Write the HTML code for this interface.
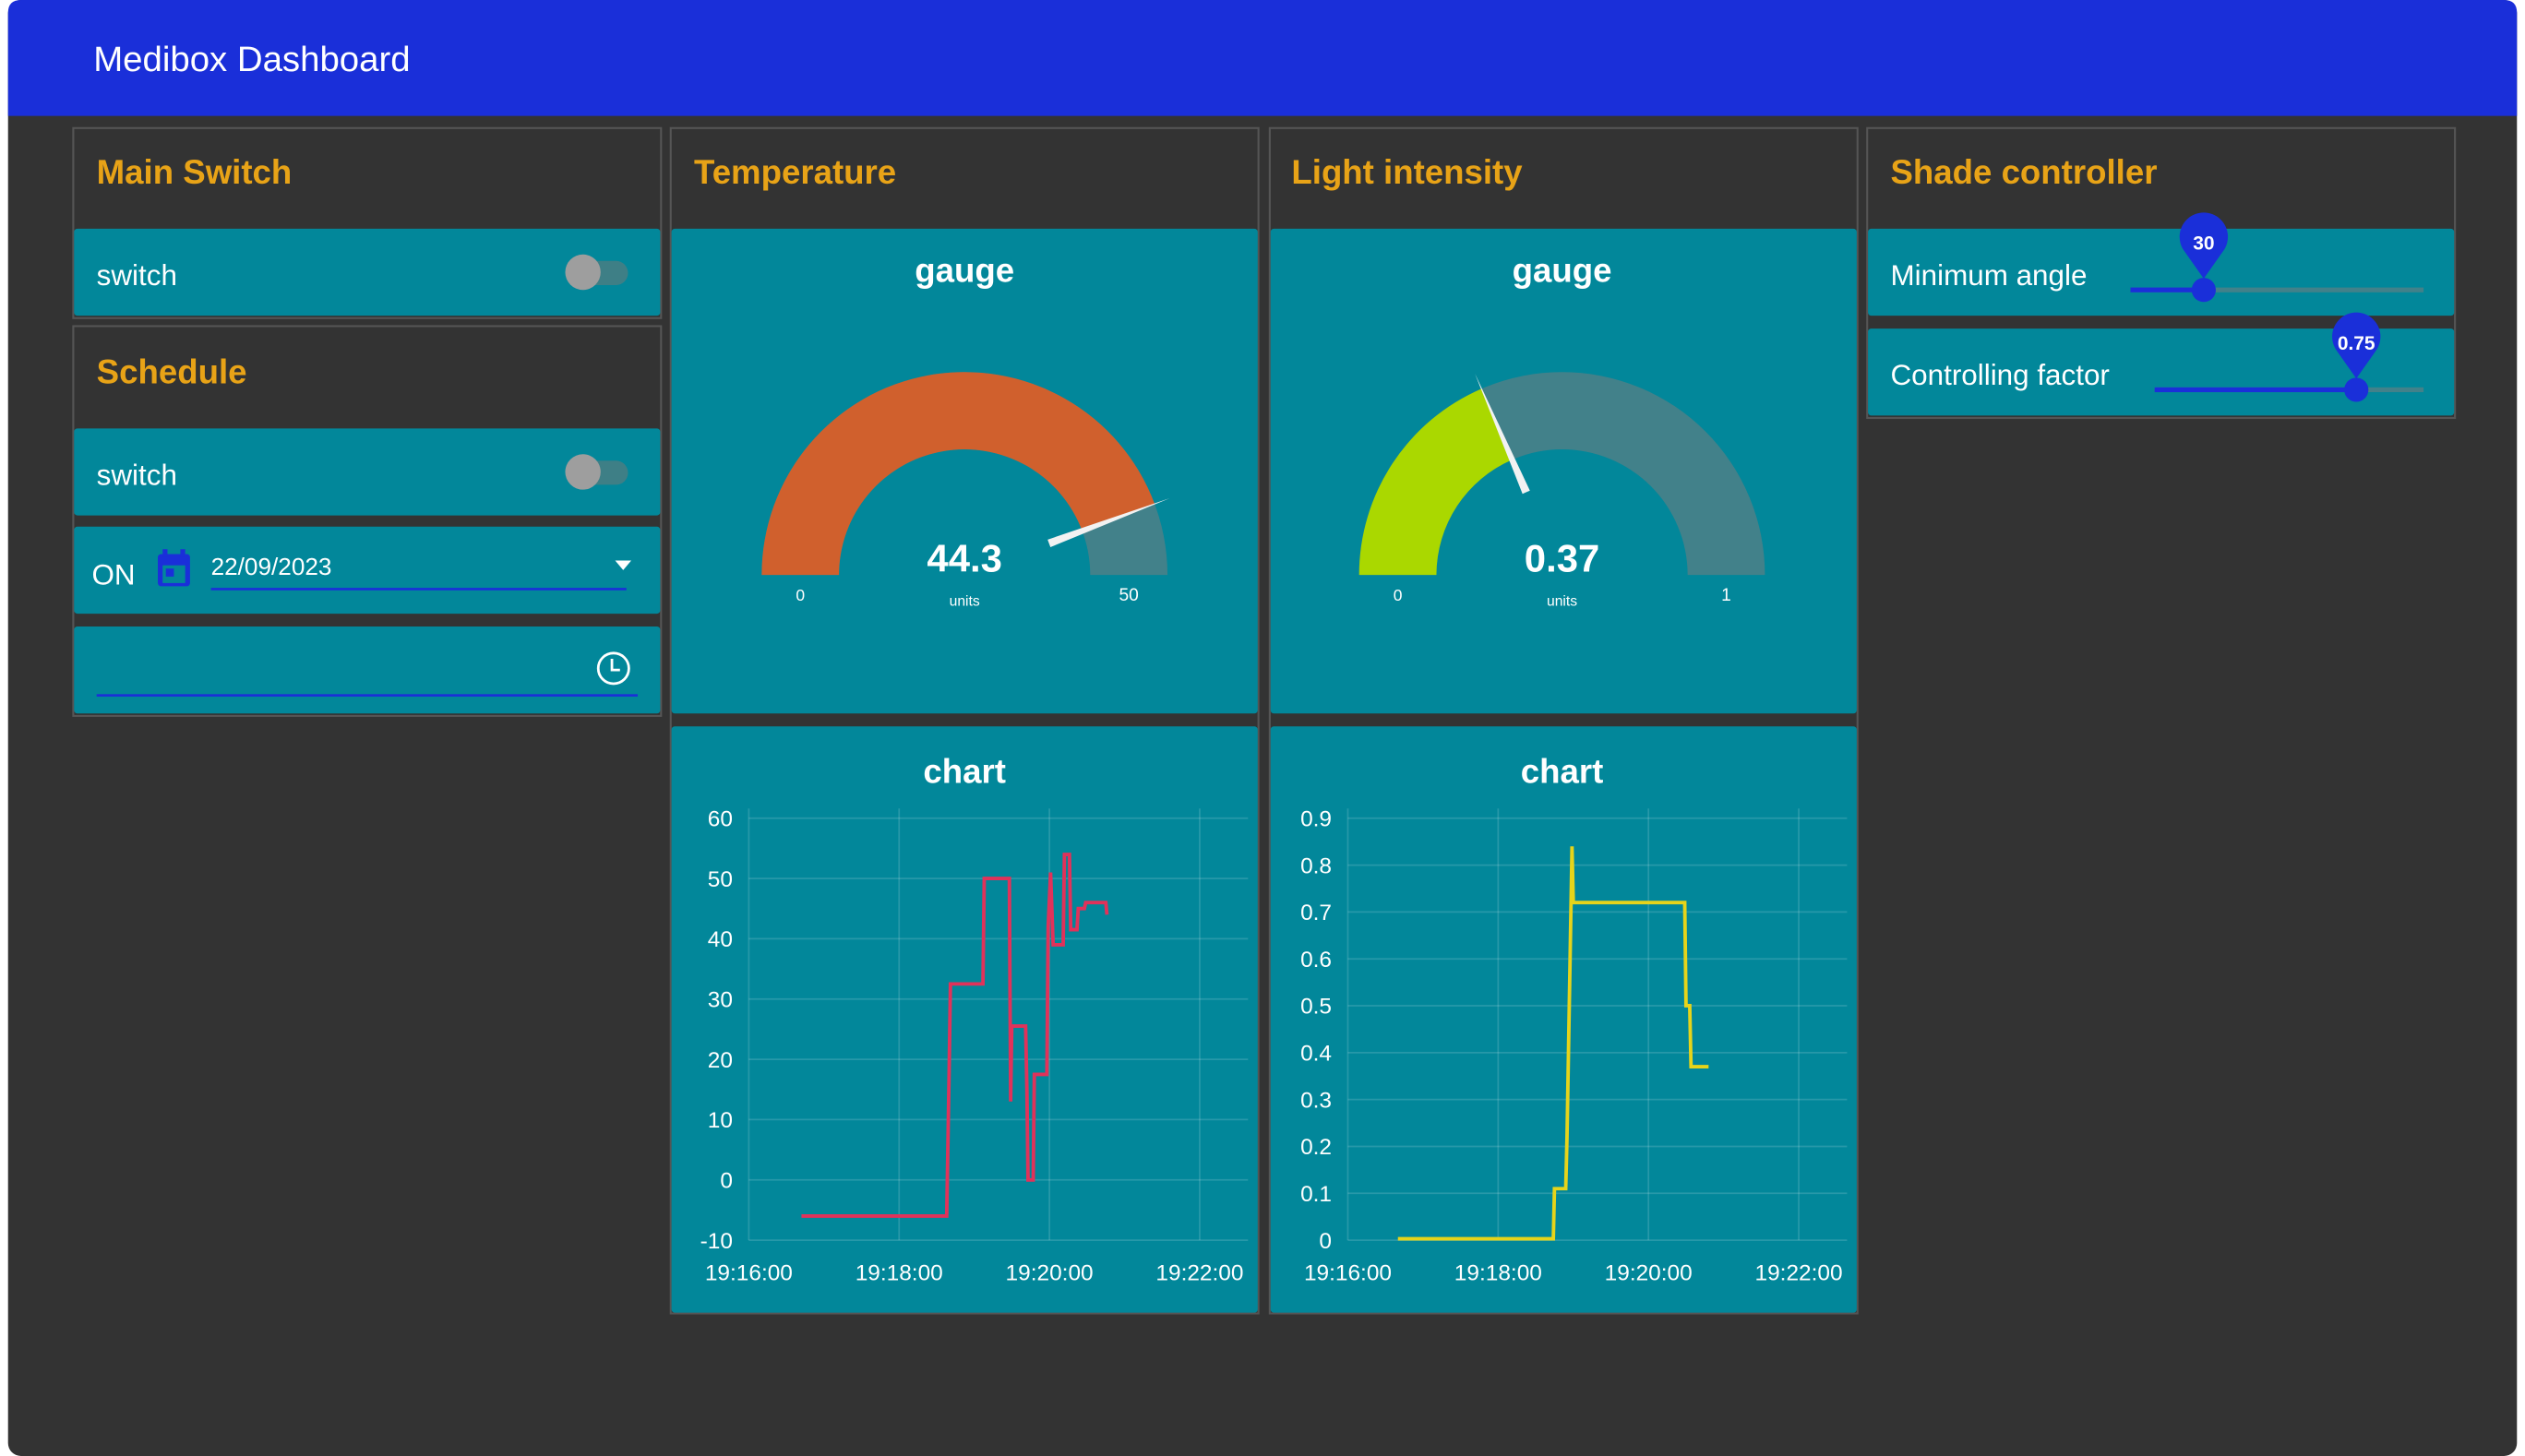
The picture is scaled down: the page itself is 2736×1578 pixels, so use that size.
<!DOCTYPE html>
<html><head><meta charset="utf-8">
<style>
html,body{margin:0;padding:0;background:#fff;width:2736px;height:1578px;overflow:hidden}
svg{display:block;font-family:"Liberation Sans",sans-serif}
</style></head>
<body>
<svg id="root" width="2736" height="1578" viewBox="0 0 1568 904" preserveAspectRatio="none" xmlns="http://www.w3.org/2000/svg">
  <rect x="5" y="0" width="1558" height="904" rx="8" fill="#333333"/>
  <path d="M5,72 V8 Q5,0 13,0 H1555 Q1563,0 1563,8 V72 Z" fill="#1a2fd9"/>
  <text x="58" y="44" font-size="22" fill="#fff">Medibox Dashboard</text>

  <!-- Group borders -->
  <g fill="none" stroke="#555" stroke-width="1.2">
    <rect x="45.5" y="79.5" width="365" height="118"/>
    <rect x="45.5" y="202.5" width="365" height="242"/>
    <rect x="416.5" y="79.5" width="365" height="736"/>
    <rect x="788.5" y="79.5" width="365" height="736"/>
    <rect x="1159.5" y="79.5" width="365" height="180"/>
  </g>
  <g font-size="21" font-weight="bold" fill="#e8a317">
    <text x="60" y="114">Main Switch</text>
    <text x="60" y="238">Schedule</text>
    <text x="431" y="114">Temperature</text>
    <text x="802" y="114">Light intensity</text>
    <text x="1174" y="114">Shade controller</text>
  </g>

  <!-- Cards -->
  <g fill="#02879a">
    <rect x="46" y="142" width="364" height="54" rx="2"/>
    <rect x="46" y="266" width="364" height="54" rx="2"/>
    <rect x="46" y="327" width="364" height="54" rx="2"/>
    <rect x="46" y="389" width="364" height="54" rx="2"/>
    <rect x="417" y="142" width="364" height="301" rx="2"/>
    <rect x="417" y="451" width="364" height="364" rx="2"/>
    <rect x="789" y="142" width="364" height="301" rx="2"/>
    <rect x="789" y="451" width="364" height="364" rx="2"/>
    <rect x="1160" y="142" width="364" height="54" rx="2"/>
    <rect x="1160" y="204" width="364" height="54" rx="2"/>
  </g>

  <!-- switches -->
  <g font-size="18" fill="#fff">
    <text x="60" y="177">switch</text>
    <text x="60" y="301">switch</text>
  </g>
  <g>
    <rect x="352" y="162" width="38" height="15" rx="7.5" fill="#3e7f86"/>
    <circle cx="362" cy="169" r="11" fill="#9e9e9e"/>
  </g>
  <g>
    <rect x="352" y="286" width="38" height="15" rx="7.5" fill="#3e7f86"/>
    <circle cx="362" cy="293" r="11" fill="#9e9e9e"/>
  </g>

  <!-- date -->
  <text x="57" y="363" font-size="18" fill="#fff">ON</text>
  <g fill="#1a2fd9">
    <rect x="98" y="344" width="20" height="20" rx="2"/>
    <rect x="101" y="351" width="14" height="11" fill="#02879a"/>
    <rect x="103" y="353" width="5" height="5"/>
    <rect x="101" y="341" width="3" height="5"/><rect x="112" y="341" width="3" height="5"/>
  </g>
  <text x="131" y="357" font-size="15" fill="#fff">22/09/2023</text>
  <rect x="131" y="365" width="258" height="1.5" fill="#1a2fd9"/>
  <path d="M382,348 L392,348 L387,354 Z" fill="#fff"/>
  <!-- time -->
  <g fill="none" stroke="#fff" stroke-width="1.6">
    <circle cx="381" cy="415" r="9.5"/>
    <path d="M380,409 V416 H385"/>
  </g>
  <rect x="60" y="431" width="336" height="1.5" fill="#1a2fd9"/>

  <!-- sliders -->
  <text x="1174" y="177" font-size="18" fill="#fff">Minimum angle</text>
  <text x="1174" y="239" font-size="18" fill="#fff">Controlling factor</text>
  <g id="sliders"></g>

  <!-- gauges -->
  <text x="599" y="175" font-size="21" font-weight="bold" fill="#fff" text-anchor="middle">gauge</text>
  <text x="970" y="175" font-size="21" font-weight="bold" fill="#fff" text-anchor="middle">gauge</text>
  <g id="gauges"></g>

  <!-- charts -->
  <text x="599" y="486" font-size="21" font-weight="bold" fill="#fff" text-anchor="middle">chart</text>
  <text x="970" y="486" font-size="21" font-weight="bold" fill="#fff" text-anchor="middle">chart</text>
  <g id="charts"></g>
</svg>
<script>
// ---- chart data ----
const timeTicks = ["19:16:00","19:18:00","19:20:00","19:22:00"];
const tempTicks = [-10,0,10,20,30,40,50,60];
const tempTimes = ["19:16:42","19:18:38","19:18:40","19:18:41","19:19:07","19:19:08","19:19:28","19:19:29","19:19:30","19:19:41","19:19:42","19:19:43","19:19:47","19:19:48","19:19:58","19:19:59","19:20:01","19:20:03","19:20:11","19:20:12","19:20:16","19:20:17","19:20:22","19:20:23","19:20:28","19:20:29","19:20:45","19:20:46"];
const tempValues = [-6,-6,18,32.5,32.5,50,50,13,25.5,25.5,15,0,0,17.5,17.5,42,51,39,39,54,54,41.5,41.5,45,45,46,46,44];
const lightTicks = [0,0.1,0.2,0.3,0.4,0.5,0.6,0.7,0.8,0.9];
const lightTimes = ["19:16:40","19:18:44","19:18:45","19:18:54","19:18:55","19:18:59","19:19:00","19:19:01","19:20:29","19:20:30","19:20:33","19:20:34","19:20:48"];
const lightValues = [0.003,0.003,0.11,0.11,0.22,0.84,0.72,0.72,0.72,0.5,0.5,0.37,0.37];
const gaugeValues = [44.3, 0.37];
const gaugeMax = [50, 1];
const sliderValues = [30, 0.75];
const sliderMax = [120, 1];

const NS = "http://www.w3.org/2000/svg";
function mk(tag, attrs, parent){const e=document.createElementNS(NS,tag);for(const k in attrs)e.setAttribute(k,attrs[k]);parent.appendChild(e);return e;}
function secs(t){const p=t.split(":").map(Number);return p[0]*3600+p[1]*60+p[2];}

function drawChart(opt){
  const g=document.getElementById("charts");
  const t0=secs(timeTicks[0]), t1=secs(timeTicks[timeTicks.length-1]);
  const xs=t=>opt.x0+(secs(t)-t0)/(t1-t0)*(opt.x1-opt.x0);
  const ymin=opt.ticks[0], ymax=opt.ticks[opt.ticks.length-1];
  const ys=v=>opt.yb-(v-ymin)/(ymax-ymin)*(opt.yb-opt.yt);
  opt.ticks.forEach(v=>{
    const l=mk("line",{x1:opt.x0,x2:opt.x1+30,y1:ys(v),y2:ys(v),stroke:"rgba(255,255,255,0.15)","stroke-width":1},g);
    
    
    const t=mk("text",{x:opt.x0-10,y:ys(v)+5,"font-size":14,fill:"#fff","text-anchor":"end"},g);
    t.textContent=v;
    
    
  });
  timeTicks.forEach(tt=>{
    const x=xs(tt);
    const l=mk("line",{x1:x,x2:x,y1:opt.yt-6,y2:opt.yb,stroke:"rgba(255,255,255,0.15)","stroke-width":1},g);
    
    
    const t=mk("text",{x:x,y:opt.yb+25,"font-size":14,fill:"#fff","text-anchor":"middle"},g);
    t.textContent=tt;
    
    
  });
  const pts=opt.times.map((t,i)=>xs(t).toFixed(1)+","+ys(opt.values[i]).toFixed(1)).join(" ");
  const pl=mk("polyline",{points:pts,fill:"none",stroke:opt.color,"stroke-width":2.2,"stroke-linejoin":"miter"},g);
  
  
}
drawChart({name:"temperature-chart",x0:465,x1:745,yt:508,yb:770,ticks:tempTicks,times:tempTimes,values:tempValues,color:"#e0325a"});
drawChart({name:"light-chart",x0:837,x1:1117,yt:508,yb:770,ticks:lightTicks,times:lightTimes,values:lightValues,color:"#e6d41a"});

function arc(cx,cy,r0,r1,a0,a1){
  const P=(r,a)=>[cx+r*Math.cos(a),cy-r*Math.sin(a)];
  const [x1,y1]=P(r1,a0),[x2,y2]=P(r1,a1),[x3,y3]=P(r0,a1),[x4,y4]=P(r0,a0);
  return `M${x1},${y1} A${r1},${r1} 0 0 1 ${x2},${y2} L${x3},${y3} A${r0},${r0} 0 0 0 ${x4},${y4} Z`;
}
function drawGauge(idx,cx,name,color){
  const g=document.getElementById("gauges");
  const cy=357,r0=78,r1=126;
  const f=gaugeValues[idx]/gaugeMax[idx];
  const th=Math.PI*(1-f);
  const bg=mk("path",{d:arc(cx,cy,r0,r1,Math.PI,0),fill:"#42818a"},g);
  
  
  const fg=mk("path",{d:arc(cx,cy,r0,r1,Math.PI,th),fill:color},g);
  
  
  const c=Math.cos(th),s=Math.sin(th),px=-s,py=-c;
  const bx=cx+56*c,by=cy-56*s,tx=cx+136*c,ty=cy-136*s;
  const nd=mk("polygon",{points:`${bx+px*2.5},${by+py*2.5} ${bx-px*2.5},${by-py*2.5} ${tx},${ty}`,fill:"#f2f2f2"},g);
  
  
  const v=mk("text",{x:cx,y:355,"font-size":24,"font-weight":"bold",fill:"#fff","text-anchor":"middle"},g);
  v.textContent=gaugeValues[idx];
  
  
  const u=mk("text",{x:cx,y:376,"font-size":9,fill:"#fff","text-anchor":"middle"},g);
  u.textContent="units";
  
  
  const mn=mk("text",{x:cx-102,y:373,"font-size":10,fill:"#fff","text-anchor":"middle"},g);
  mn.textContent="0";
  
  
  const mx=mk("text",{x:cx+102,y:373,"font-size":11,fill:"#fff","text-anchor":"middle"},g);
  mx.textContent=gaugeMax[idx];
  
  
}
drawGauge(0,599,"temperature-gauge","#d0602d");
drawGauge(1,970,"light-gauge","#aad800");

function drawSlider(idx,x0,x1,y,name){
  const g=document.getElementById("sliders");
  const x=x0+(sliderValues[idx]/sliderMax[idx])*(x1-x0);
  const tr=mk("rect",{x:x0,y:y-1.5,width:x1-x0,height:3,fill:"#42818a"},g);
  
  
  const fl=mk("rect",{x:x0,y:y-1.5,width:x-x0,height:3,fill:"#1a2fd9"},g);
  
  
  const th=mk("circle",{cx:x,cy:y,r:7.5,fill:"#1a2fd9"},g);
  
  
  const pin=mk("path",{d:`M${x},${y-7} L${x-12},${y-24} A15,15 0 1 1 ${x+12},${y-24} Z`,fill:"#1a2fd9"},g);
  
  
  const t=mk("text",{x:x,y:y-25,"font-size":12,"font-weight":"bold",fill:"#fff","text-anchor":"middle"},g);
  t.textContent=sliderValues[idx];
  
  
}
drawSlider(0,1323,1505,180,"minimum-angle-slider");
drawSlider(1,1338,1505,242,"controlling-factor-slider");
</script>
</body></html>
